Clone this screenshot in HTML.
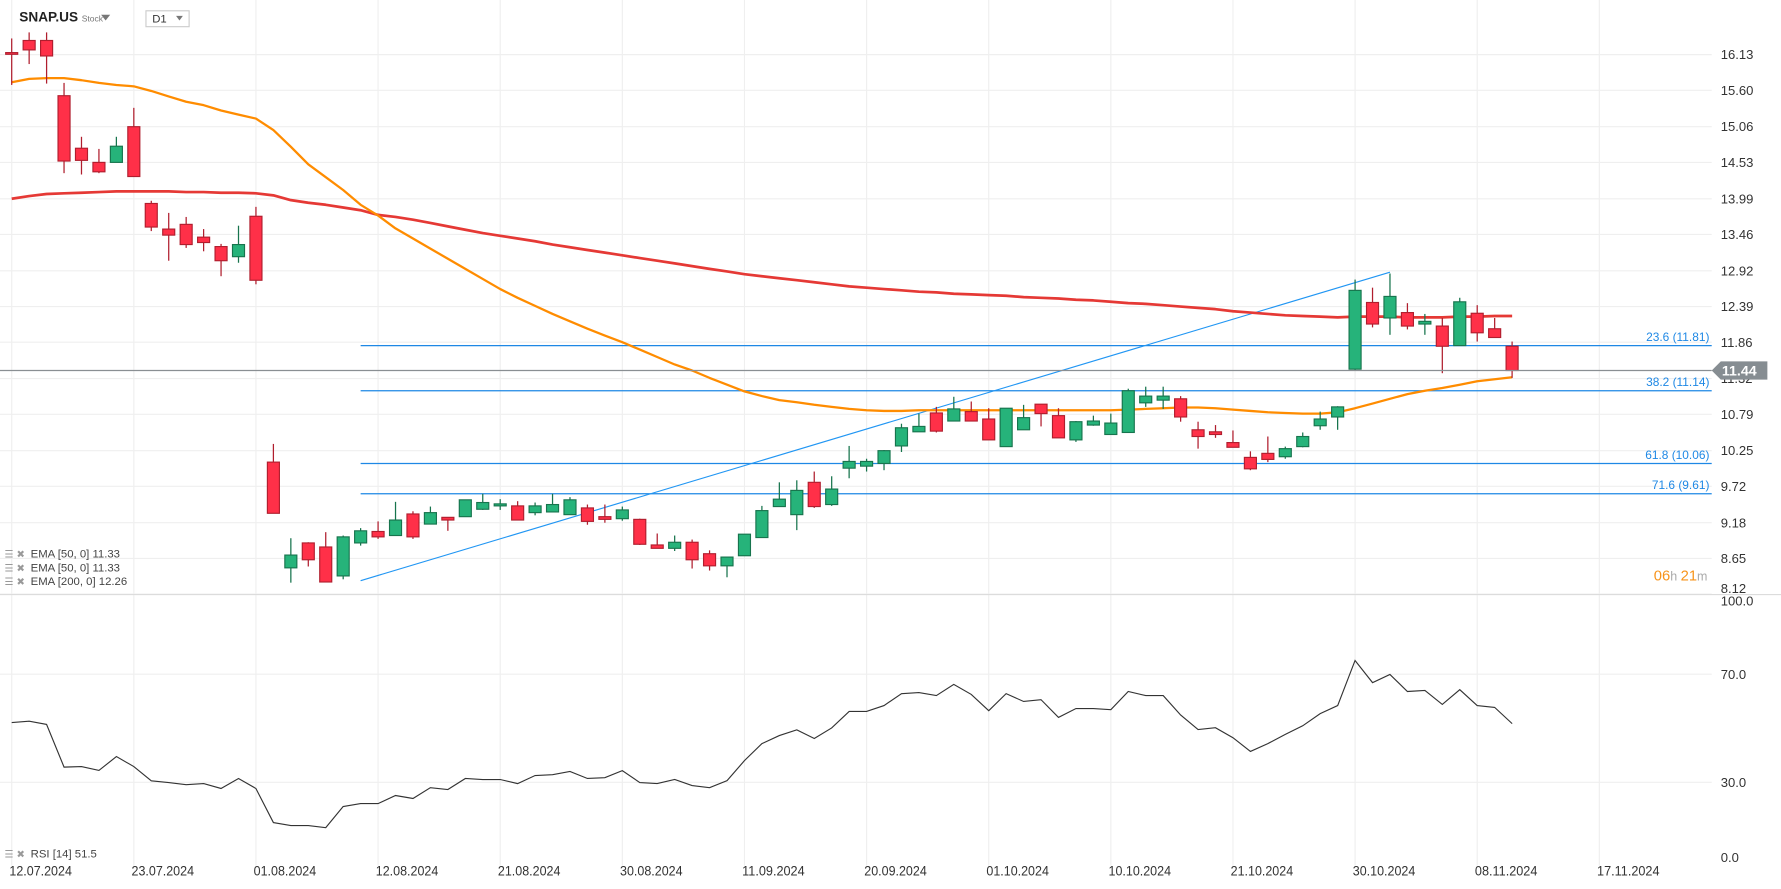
<!DOCTYPE html>
<html><head><meta charset="utf-8">
<style>
html,body{margin:0;padding:0;background:#fff;}
svg{display:block;font-family:"Liberation Sans Narrow","Liberation Sans",sans-serif;}
</style></head>
<body>
<svg id="chart" width="1781" height="889" viewBox="0 0 1568 782.7" preserveAspectRatio="none" xmlns="http://www.w3.org/2000/svg">
  <g id="grid"></g>
  <g id="fib"></g>
  <g id="ema"></g>
  <g id="candles"></g>
  <g id="rsi"></g>
  <g id="axes"></g>
  <g>
    <text x="17" y="19" font-size="12" font-weight="bold" fill="#222">SNAP.US</text>
    <text x="72" y="19" font-size="7.5" fill="#777">Stock</text>
    <path d="M89,13 L97,13 L93,18 Z" fill="#777"/>
    <rect x="128.5" y="9.5" width="38" height="14" fill="#fff" stroke="#ccc"/>
    <text x="134" y="20" font-size="10" fill="#333">D1</text>
    <path d="M155,14 L161,14 L158,18 Z" fill="#777"/>
  </g>
  <g font-size="10" fill="#444">
    <g><text x="4" y="491" font-size="9" fill="#999">☰ ✖</text><text x="27" y="491">EMA [50, 0] 11.33</text></g>
    <g><text x="4" y="503" font-size="9" fill="#999">☰ ✖</text><text x="27" y="503">EMA [50, 0] 11.33</text></g>
    <g><text x="4" y="515" font-size="9" fill="#999">☰ ✖</text><text x="27" y="515">EMA [200, 0] 12.26</text></g>
    <g><text x="4" y="755" font-size="9" fill="#999">☰ ✖</text><text x="27" y="755">RSI [14] 51.5</text></g>
  </g>
  <g>
    <text x="1456" y="511" font-size="13" fill="#f7931a">06<tspan fill="#aaa" font-size="11">h </tspan>21<tspan fill="#aaa" font-size="11">m</tspan></text>
  </g>
</svg>
<script>
const opens=[16.16,16.34,16.34,15.52,14.74,14.53,14.53,15.06,13.92,13.54,13.61,13.42,13.28,13.13,13.73,10.08,8.51,8.88,8.82,8.39,8.88,9.05,8.99,9.31,9.16,9.26,9.27,9.38,9.43,9.43,9.33,9.34,9.30,9.40,9.27,9.24,9.23,8.85,8.80,8.89,8.72,8.54,8.69,8.96,9.42,9.30,9.78,9.45,9.99,10.02,10.06,10.32,10.53,10.81,10.69,10.83,10.72,10.31,10.56,10.94,10.77,10.41,10.63,10.49,10.52,10.96,11.00,11.02,10.56,10.53,10.37,10.15,10.21,10.16,10.31,10.62,10.75,11.46,12.45,12.22,12.30,12.13,12.10,11.81,12.29,12.06,11.80];
const closes=[16.14,16.20,16.11,14.55,14.56,14.39,14.77,14.32,13.57,13.45,13.31,13.34,13.07,13.31,12.78,9.32,8.70,8.63,8.30,8.97,9.06,8.97,9.22,8.97,9.33,9.22,9.52,9.48,9.46,9.22,9.43,9.45,9.52,9.20,9.23,9.37,8.86,8.80,8.89,8.63,8.54,8.67,9.01,9.36,9.53,9.66,9.42,9.68,10.09,10.09,10.25,10.59,10.61,10.54,10.87,10.69,10.41,10.88,10.74,10.80,10.44,10.68,10.69,10.66,11.14,11.06,11.06,10.75,10.46,10.49,10.30,9.98,10.12,10.28,10.46,10.72,10.90,12.63,12.13,12.54,12.10,12.17,11.80,12.46,12.00,11.93,11.44];
const highs=[16.37,16.46,16.46,15.71,14.91,14.73,14.91,15.34,13.96,13.78,13.72,13.54,13.32,13.59,13.87,10.35,8.95,8.89,9.04,8.99,9.10,9.20,9.49,9.35,9.42,9.26,9.52,9.61,9.53,9.50,9.48,9.61,9.56,9.45,9.45,9.42,9.24,9.02,8.99,8.93,8.77,8.67,9.01,9.43,9.78,9.81,9.94,9.87,10.32,10.13,10.26,10.65,10.80,10.90,11.05,10.98,10.88,10.88,10.93,10.94,10.88,10.69,10.77,10.80,11.17,11.20,11.20,11.06,10.68,10.63,10.55,10.24,10.46,10.31,10.52,10.83,10.91,12.79,12.67,12.88,12.44,12.28,12.22,12.52,12.41,12.22,11.87];
const lows=[15.68,15.99,15.70,14.37,14.35,14.37,14.53,14.32,13.51,13.07,13.26,13.21,12.84,13.04,12.72,9.32,8.29,8.53,8.30,8.34,8.84,8.94,8.99,8.94,9.16,9.06,9.27,9.37,9.37,9.22,9.29,9.34,9.30,9.15,9.18,9.21,8.85,8.80,8.76,8.50,8.47,8.37,8.69,8.96,9.42,9.07,9.40,9.43,9.84,9.94,9.96,10.23,10.53,10.52,10.69,10.69,10.41,10.31,10.56,10.61,10.44,10.38,10.62,10.49,10.52,10.90,10.87,10.68,10.28,10.44,10.30,9.96,10.08,10.13,10.30,10.56,10.56,11.44,12.08,11.97,12.05,11.97,11.40,11.81,11.87,11.93,11.33];
const ema50=[15.72,15.77,15.78,15.78,15.75,15.71,15.68,15.66,15.59,15.51,15.43,15.38,15.30,15.24,15.18,15.01,14.76,14.50,14.31,14.12,13.90,13.74,13.55,13.40,13.25,13.10,12.95,12.80,12.65,12.52,12.40,12.28,12.17,12.06,11.96,11.86,11.75,11.64,11.53,11.44,11.33,11.23,11.13,11.06,11.00,10.97,10.93,10.90,10.87,10.85,10.84,10.84,10.85,10.85,10.85,10.85,10.85,10.85,10.85,10.85,10.85,10.85,10.85,10.85,10.86,10.87,10.88,10.89,10.89,10.88,10.86,10.84,10.82,10.81,10.80,10.80,10.82,10.88,10.95,11.02,11.09,11.14,11.18,11.23,11.28,11.31,11.34];
const ema200=[13.99,14.03,14.06,14.07,14.08,14.09,14.10,14.10,14.10,14.10,14.09,14.09,14.08,14.08,14.07,14.04,13.97,13.93,13.90,13.86,13.82,13.75,13.72,13.68,13.63,13.58,13.53,13.48,13.44,13.40,13.36,13.31,13.27,13.23,13.19,13.15,13.11,13.07,13.03,12.99,12.95,12.91,12.87,12.84,12.81,12.78,12.75,12.72,12.69,12.67,12.65,12.63,12.61,12.60,12.58,12.57,12.56,12.55,12.53,12.52,12.51,12.49,12.48,12.46,12.44,12.43,12.41,12.39,12.37,12.35,12.32,12.30,12.28,12.26,12.25,12.24,12.23,12.24,12.24,12.24,12.23,12.23,12.23,12.24,12.24,12.25,12.25];
const rsiValues=[52.1,52.6,51.4,35.6,35.8,34.4,39.5,35.8,30.5,29.9,29.1,29.5,27.7,31.4,27.7,15.1,14.0,14.0,13.2,21.0,22.1,22.1,25.1,24.0,28.0,27.3,31.4,31.0,31.0,29.5,32.5,32.8,34.0,31.4,31.7,34.3,29.9,29.5,31.0,28.8,28.0,30.6,38.0,44.3,47.3,49.4,46.2,50.1,56.2,56.2,58.4,62.8,63.2,62.1,66.2,62.5,56.5,62.8,59.9,60.6,54.0,57.3,57.3,56.9,63.6,62.1,62.1,54.9,49.5,50.2,46.5,41.4,44.3,47.7,50.9,55.4,58.4,75.1,66.9,69.9,63.6,64.0,58.8,64.3,58.4,57.7,51.7];
const priceTicks=[16.13,15.60,15.06,14.53,13.99,13.46,12.92,12.39,11.86,11.32,10.79,10.25,9.72,9.18,8.65,8.12];
const rsiTicks=[100,70,30,0];
const dateLabels=['12.07.2024','23.07.2024','01.08.2024','12.08.2024','21.08.2024','30.08.2024','11.09.2024','20.09.2024','01.10.2024','10.10.2024','21.10.2024','30.10.2024','08.11.2024','17.11.2024'];
const dateIndex=[0,7,14,21,28,35,42,49,56,63,70,77,84,91];
const fibLevels=[23.6,38.2,61.8,71.6];
const fibPrices=[11.81,11.14,10.06,9.61];
const trendStart=[20,8.32];
const trendEnd=[79,12.90];
const lastPrice=11.44;

const NS='http://www.w3.org/2000/svg';
const PLOT_R=1507;
function xI(i){return 10.3+i*15.36;}
function yP(p){return 301.3+(11.86-p)*59.3;}
function yR(v){return 593.6+(70-v)*2.378;}
function mk(tag,attrs,parent){const e=document.createElementNS(NS,tag);for(const k in attrs)e.setAttribute(k,attrs[k]);parent.appendChild(e);return e;}

const grid=document.getElementById('grid');
const axes=document.getElementById('axes');
dateIndex.forEach((di,k)=>{
  const x=xI(di);
  const l=mk('line',{x1:x,x2:x,y1:0,y2:762,stroke:'#efefef','stroke-width':1},grid);
  
  
  const t=mk('text',{x:x-2,y:771,'font-size':12,fill:'#333',textLength:55,lengthAdjust:'spacingAndGlyphs'},axes);
  t.textContent=dateLabels[k];
  
  
});
priceTicks.forEach(v=>{
  const y=yP(v);
  const l=mk('line',{x1:0,x2:PLOT_R,y1:y,y2:y,stroke:'#efefef','stroke-width':1},grid);
  
  
  const t=mk('text',{x:1515,y:Math.min(y+4,522),'font-size':11.5,fill:'#333'},axes);
  t.textContent=v.toFixed(2);
  
  
});
const sep=mk('line',{x1:0,x2:1568,y1:523.5,y2:523.5,stroke:'#dcdcdc','stroke-width':1},grid);


rsiTicks.forEach(v=>{
  const y=yR(v);
  if(v===70||v===30){
    const l=mk('line',{x1:0,x2:PLOT_R,y1:y,y2:y,stroke:'#efefef','stroke-width':1},grid);
    
    
  }
  const ty=v===100?y+11:(v===0?y-1:y+4);
  const t=mk('text',{x:1515,y:ty,'font-size':11.5,fill:'#333'},axes);
  t.textContent=v.toFixed(1);
  
  
});

const fib=document.getElementById('fib');
fibLevels.forEach((lv,k)=>{
  const y=yP(fibPrices[k]);
  const l=mk('line',{x1:xI(trendStart[0]),x2:PLOT_R,y1:y,y2:y,stroke:'#1e88e5','stroke-width':1.1},fib);
  
  
  const t=mk('text',{x:1505,y:y-4,'font-size':10.5,fill:'#1e88e5','text-anchor':'end'},fib);
  t.textContent=lv.toFixed(1)+' ('+fibPrices[k].toFixed(2)+')';
  
  
});
const tl=mk('line',{x1:xI(trendStart[0]),y1:yP(trendStart[1]),x2:xI(trendEnd[0]),y2:yP(trendEnd[1]),stroke:'#2196f3','stroke-width':1},fib);



const lp=mk('line',{x1:0,x2:PLOT_R,y1:yP(lastPrice),y2:yP(lastPrice),stroke:'#8a8f93','stroke-width':1.1},axes);


const ly=yP(lastPrice);
const lb=mk('path',{d:`M1507,${ly} L1515,${ly-8} L1556,${ly-8} L1556,${ly+8} L1515,${ly+8} Z`,fill:'#868d92'},axes);


const lt=mk('text',{x:1516,y:ly+4.5,'font-size':12.5,'font-weight':'bold',fill:'#fff'},axes);
lt.textContent=lastPrice.toFixed(2);



const ema=document.getElementById('ema');
function poly(vals,fn){return vals.map((v,i)=>xI(i).toFixed(1)+','+fn(v).toFixed(1)).join(' ');}
const e200=mk('polyline',{points:poly(ema200,yP),fill:'none',stroke:'#e53935','stroke-width':2.4,'stroke-linejoin':'round'},ema);


const e50=mk('polyline',{points:poly(ema50,yP),fill:'none',stroke:'#ff8c00','stroke-width':2,'stroke-linejoin':'round'},ema);



const cg=document.getElementById('candles');
opens.forEach((o,i)=>{
  const c=closes[i],up=c>=o;
  const fill=up?'#26b37a':'#ff3048', st=up?'#17744d':'#b01e2e';
  const x=xI(i);
  const g=mk('g',{},cg);
  
  
  mk('line',{x1:x,x2:x,y1:yP(highs[i]),y2:yP(lows[i]),stroke:st,'stroke-width':1.1},g);
  const top=yP(Math.max(o,c)),bot=yP(Math.min(o,c));
  mk('rect',{x:x-5.3,y:top,width:10.6,height:Math.max(bot-top,1.5),fill:fill,stroke:st,'stroke-width':1},g);
});

const rg=document.getElementById('rsi');
const rl=mk('polyline',{points:poly(rsiValues,yR),fill:'none',stroke:'#333','stroke-width':1},rg);


</script>
</body></html>
